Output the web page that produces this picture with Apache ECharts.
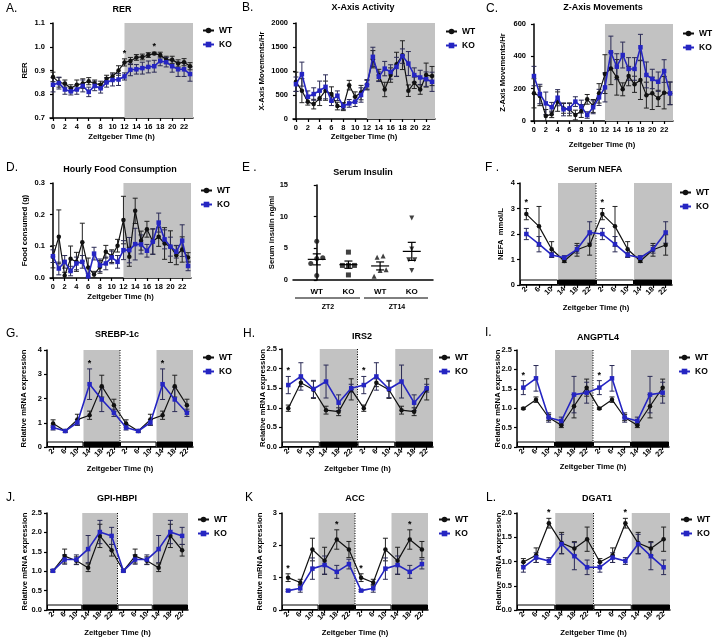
<!DOCTYPE html>
<html><head><meta charset="utf-8">
<script src="https://cdn.jsdelivr.net/npm/echarts@6/dist/echarts.min.js"></script>
<style>html,body{margin:0;padding:0;background:#fff}#c{width:713px;height:639px}</style>
</head><body><div id="c"></div>
<script>
const FONT = "'Liberation Sans', Arial, Helvetica, sans-serif";
const WT_COLOR = '#111111', KO_COLOR = '#2525c2', GRAY = '#c2c2c2', ERR_WT = '#222222', ERR_KO = '#2a2a55';

// ---------- hourly panels (ZT 0-23) ----------
const hoursZT = [0,1,2,3,4,5,6,7,8,9,10,11,12,13,14,15,16,17,18,19,20,21,22,23];
const hourTickLabels = [0,2,4,6,8,10,12,14,16,18,20,22];

// A. RER
const rerWT   = [0.873,0.850,0.845,0.825,0.840,0.845,0.855,0.845,0.840,0.865,0.875,0.900,0.934,0.940,0.955,0.957,0.965,0.972,0.965,0.945,0.945,0.930,0.935,0.918];
const rerWTse = [0.020,0.020,0.015,0.015,0.020,0.020,0.015,0.015,0.015,0.015,0.015,0.020,0.015,0.015,0.012,0.012,0.010,0.005,0.012,0.015,0.015,0.015,0.015,0.015];
const rerKO   = [0.840,0.847,0.820,0.812,0.820,0.835,0.810,0.835,0.825,0.850,0.860,0.862,0.875,0.903,0.905,0.910,0.915,0.918,0.940,0.935,0.918,0.905,0.905,0.885];
const rerKOse = [0.030,0.025,0.020,0.015,0.020,0.025,0.020,0.020,0.020,0.020,0.025,0.025,0.015,0.025,0.020,0.025,0.025,0.025,0.020,0.020,0.025,0.030,0.030,0.030];
const rerStars = [12,17];

// B. X-Axis Activity
const xActWT   = [775,590,360,310,430,590,520,270,255,705,465,550,720,1245,915,615,915,1140,1330,590,755,615,915,895];
const xActWTse = [200,250,70,100,150,200,150,80,80,100,100,150,100,180,120,150,150,250,300,120,120,100,250,200];
const xActKO   = [725,935,465,520,590,670,380,485,270,325,360,500,705,1295,880,1050,980,1085,1310,1155,915,865,830,775];
const xActKOse = [150,250,120,130,200,250,100,100,70,80,100,150,100,200,100,150,150,200,150,250,150,150,150,200];

// C. Z-Axis Movements
const zMovWT   = [171,155,31,41,120,78,72,37,62,134,93,171,290,325,270,196,278,227,253,160,171,140,175,171];
const zMovWTse = [90,60,40,20,60,30,40,30,40,30,40,60,120,100,110,40,60,50,120,80,100,50,100,70];
const zMovKO   = [278,167,109,85,144,72,78,120,89,37,85,146,208,425,336,408,322,322,456,285,260,243,309,171];
const zMovKOse = [60,60,70,30,50,40,30,30,40,20,40,50,90,100,80,80,70,70,80,80,60,60,70,70];

// D. Hourly Food Consumption
const foodWT   = [0.067,0.130,0.008,0.061,0.051,0.113,0.033,0.011,0.035,0.083,0.069,0.102,0.183,0.067,0.212,0.118,0.154,0.115,0.130,0.109,0.099,0.072,0.090,0.065];
const foodWTse = [0.035,0.085,0.010,0.040,0.030,0.060,0.030,0.010,0.020,0.020,0.020,0.020,0.075,0.030,0.040,0.030,0.025,0.040,0.030,0.050,0.050,0.030,0.040,0.015];
const foodKO   = [0.069,0.030,0.051,0.022,0.046,0.051,0.005,0.077,0.040,0.046,0.065,0.051,0.088,0.088,0.107,0.106,0.086,0.115,0.175,0.122,0.099,0.083,0.118,0.038];
const foodKOse = [0.020,0.020,0.020,0.015,0.020,0.020,0.010,0.020,0.020,0.020,0.020,0.020,0.030,0.040,0.050,0.030,0.020,0.040,0.030,0.030,0.030,0.020,0.050,0.015];

// E. Serum Insulin (individual animals)
const insulinGroupLabels = ['WT','KO','WT','KO'];
const insulinPhaseLabels = ['ZT2','ZT14'];
const insWTzt2  = [6.1, 3.5, 3.4, 2.6, 0.7];
const insKOzt2  = [4.4, 2.3, 2.3, 2.3, 0.8];
const insWTzt14 = [3.8, 3.6, 1.6, 1.5, 0.6];
const insKOzt14 = [9.8, 4.9, 3.2, 3.2, 1.5];

// ---------- ZT sampled panels (double plotted) ----------
const ztHours = [2,6,10,14,18,22];

const nefaWT = [2.78,2.30,1.40,0.94,1.38,1.57], nefaWTse = [0.22,0.78,0.30,0.06,0.25,0.40];
const nefaKO = [2.00,1.60,1.18,1.07,1.40,2.06], nefaKOse = [0.22,0.30,0.10,0.08,0.15,0.42];
const nefaStars = [2];

const srebpWT = [0.97,0.66,1.13,1.31,2.51,1.72], srebpWTse = [0.15,0.05,0.22,0.17,0.45,0.25];
const srebpKO = [0.80,0.66,1.01,2.59,1.96,1.41], srebpKOse = [0.10,0.05,0.12,0.63,0.50,0.15];
const srebpStars = [14];

const irs2WT = [0.99,1.64,1.46,0.94,0.90,1.47], irs2WTse = [0.08,0.10,0.22,0.10,0.10,0.27];
const irs2KO = [1.58,1.80,1.48,1.67,1.13,1.50], irs2KOse = [0.22,0.35,0.22,0.42,0.20,0.10];
const irs2Stars = [2];

const angWT = [0.99,1.22,0.76,0.56,1.05,1.53], angWTse = [0.02,0.07,0.08,0.06,0.30,0.22];
const angKO = [1.53,1.77,0.76,0.67,1.35,1.40], angKOse = [0.18,0.33,0.12,0.10,0.47,0.27];
const angStars = [2];

const gpiWT = [1.01,1.39,1.27,1.09,1.91,1.54], gpiWTse = [0.03,0.18,0.10,0.10,0.30,0.15];
const gpiKO = [1.01,1.30,1.30,1.57,2.01,1.91], gpiKOse = [0.03,0.12,0.12,0.35,0.30,0.22];
const gpiStars = [];

const accWT = [1.00,0.85,1.87,1.52,2.18,1.87], accWTse = [0.12,0.10,0.35,0.42,0.30,0.25];
const accKO = [0.60,0.67,1.28,1.39,1.18,1.42], accKOse = [0.03,0.12,0.33,0.28,0.20,0.15];
const accStars = [2,18];

const dgatWT = [0.99,1.13,1.79,1.38,1.27,1.46], dgatWTse = [0.07,0.15,0.10,0.22,0.14,0.25];
const dgatKO = [0.88,1.08,1.01,1.36,1.11,0.88], dgatKOse = [0.10,0.10,0.07,0.20,0.28,0.15];
const dgatStars = [10];

// light/dark phases (hours)
const darkHour = [[12,24]];
const darkZT = [[12,24],[36,48]];
const phasesZT = [[0,12,0],[12,24,1],[24,36,0],[36,48,1]];

// ---------- layout ----------
const LAYOUT = {
  A:{g:[50,23,143,95],  t:[122,10],  l:[6,9,'A.'],    yn:25,  xn:137, lg:[202,30]},
  B:{g:[293,23,142,96], t:[363,8],   l:[242,8,'B.'],  yn:262, xn:137, lg:[445,31]},
  C:{g:[531,24,142,97], t:[603,8],   l:[486,9,'C.'],  yn:503, xn:145, lg:[682,33]},
  D:{g:[50,183,141,95], t:[120,170], l:[6,168,'D.'],  yn:25,  xn:297, lg:[200,190]},
  E:{g:[293,185,140,95],t:[363,173], l:[242,168,'E .'],yn:272},
  F:{g:[520,183,152,102],t:[595,170],l:[485,168,'F .'],yn:501, xn:308, lg:[679,192]},
  G:{g:[47,350,146,97], t:[117,335], l:[6,334,'G.'],  yn:24,  xn:469, lg:[202,357]},
  H:{g:[282,349,151,98],t:[362,337], l:[243,334,'H.'],yn:263, xn:469, lg:[438,357]},
  I:{g:[517,350,152,97],t:[598,338], l:[485,333,'I.'],yn:498, xn:467, lg:[678,357]},
  J:{g:[47,513,141,97], t:[117,499], l:[6,498,'J.'],  yn:25,  xn:633, lg:[197,519]},
  K:{g:[282,513,146,97],t:[355,499], l:[245,498,'K'], yn:260, xn:633, lg:[438,519]},
  L:{g:[517,513,153,97],t:[597,499], l:[486,498,'L.'],yn:499, xn:633, lg:[680,519]}
};

const PANELS = [
  {key:'A', kind:'hour', title:'RER', yname:'RER', wt:rerWT, wtSe:rerWTse, ko:rerKO, koSe:rerKOse, stars:rerStars, y:[0.7,1.1,0.1,1]},
  {key:'B', kind:'hour', title:'X-Axis Activity', yname:'X-Axis Movements/Hr', wt:xActWT, wtSe:xActWTse, ko:xActKO, koSe:xActKOse, stars:[], y:[0,2000,500,0]},
  {key:'C', kind:'hour', title:'Z-Axis Movements', yname:'Z-Axis Movements/Hr', wt:zMovWT, wtSe:zMovWTse, ko:zMovKO, koSe:zMovKOse, stars:[], y:[0,600,200,0]},
  {key:'D', kind:'hour', title:'Hourly Food Consumption', yname:'Food consumed (g)', wt:foodWT, wtSe:foodWTse, ko:foodKO, koSe:foodKOse, stars:[], y:[0,0.3,0.1,1]},
  {key:'F', kind:'zt', title:'Serum NEFA', yname:'NEFA  mmol/L', wt:nefaWT, wtSe:nefaWTse, ko:nefaKO, koSe:nefaKOse, stars:nefaStars, y:[0,4,1,0]},
  {key:'G', kind:'zt', title:'SREBP-1c', yname:'Relative mRNA expression', wt:srebpWT, wtSe:srebpWTse, ko:srebpKO, koSe:srebpKOse, stars:srebpStars, y:[0,4,1,0]},
  {key:'H', kind:'zt', title:'IRS2', yname:'Relative mRNA expression', wt:irs2WT, wtSe:irs2WTse, ko:irs2KO, koSe:irs2KOse, stars:irs2Stars, y:[0,2.5,0.5,1]},
  {key:'I', kind:'zt', title:'ANGPTL4', yname:'Relative mRNA expression', wt:angWT, wtSe:angWTse, ko:angKO, koSe:angKOse, stars:angStars, y:[0,2.5,0.5,1]},
  {key:'J', kind:'zt', title:'GPI-HBPI', yname:'Relative mRNA expression', wt:gpiWT, wtSe:gpiWTse, ko:gpiKO, koSe:gpiKOse, stars:gpiStars, y:[0,2.5,0.5,1]},
  {key:'K', kind:'zt', title:'ACC', yname:'Relative mRNA expression', wt:accWT, wtSe:accWTse, ko:accKO, koSe:accKOse, stars:accStars, y:[0,3,1,0]},
  {key:'L', kind:'zt', title:'DGAT1', yname:'Relative mRNA expression', wt:dgatWT, wtSe:dgatWTse, ko:dgatKO, koSe:dgatKOse, stars:dgatStars, y:[0,2,0.5,1]}
];

// ---------- helpers ----------
const option = {animation:false, backgroundColor:'#ffffff', grid:[], xAxis:[], yAxis:[], series:[], legend:[], graphic:[]};
const txt = (extra) => Object.assign({fontFamily:FONT, fontWeight:'bold', color:'#000'}, extra);
const axisLineCfg = {show:true, lineStyle:{color:'#000', width:1.5}};
const axisTickCfg = (extra) => Object.assign({show:true, length:3, inside:false, lineStyle:{color:'#000', width:1.2}}, extra || {});

function bandRender(params, api) {
  const cs = params.coordSys;
  let x1 = api.coord([api.value(0), 0])[0], x2 = api.coord([api.value(1), 0])[0];
  x1 = Math.max(x1, cs.x); x2 = Math.min(x2, cs.x + cs.width);
  return {type:'rect', shape:{x:x1, y:cs.y, width:x2 - x1, height:cs.height}, style:{fill:GRAY}};
}
function dayBarRender(params, api) {
  const cs = params.coordSys, h = 5;
  const x1 = api.coord([api.value(0), 0])[0], x2 = api.coord([api.value(1), 0])[0];
  const dark = api.value(2) === 1;
  return {type:'rect', shape:{x:x1 + 0.5, y:cs.y + cs.height - h, width:x2 - x1 - 1, height:h - 0.5},
    style: dark ? {fill:'#000', stroke:'#000', lineWidth:1} : {fill:'#fff', stroke:'#000', lineWidth:1}};
}
function dividerRender(params, api) {
  const cs = params.coordSys;
  const x = api.coord([api.value(0), 0])[0];
  return {type:'line', shape:{x1:x, y1:cs.y, x2:x, y2:cs.y + cs.height}, style:{stroke:'#000', lineWidth:1, lineDash:[1,1.5]}};
}
function errRender(params, api) {
  const x = api.value(0), y = api.value(1), e = api.value(2);
  const t = api.coord([x, y + e]), b = api.coord([x, y - e]);
  const cw = 2.5, st = {stroke: api.visual('color'), lineWidth: 1};
  return {type:'group', children:[
    {type:'line', shape:{x1:t[0], y1:t[1], x2:b[0], y2:b[1]}, style:st},
    {type:'line', shape:{x1:t[0]-cw, y1:t[1], x2:t[0]+cw, y2:t[1]}, style:st},
    {type:'line', shape:{x1:b[0]-cw, y1:b[1], x2:b[0]+cw, y2:b[1]}, style:st}
  ]};
}
function starRender(params, api) {
  const p = api.coord([api.value(0), api.value(1)]);
  return {type:'text', x:p[0], y:p[1] - 1, style:{text:'*', fill:'#000', font:'bold 9px ' + FONT, align:'center', verticalAlign:'bottom'}};
}
function meanSemRender(params, api) {
  const k = api.value(0), m = api.value(1), s = api.value(2);
  const c = api.coord([k, m]), t = api.coord([k, m + s]), b = api.coord([k, m - s]);
  const st = {stroke:'#000', lineWidth:1.2};
  return {type:'group', children:[
    {type:'line', shape:{x1:c[0]-9, y1:c[1], x2:c[0]+9, y2:c[1]}, style:st},
    {type:'line', shape:{x1:t[0], y1:t[1], x2:b[0], y2:b[1]}, style:st},
    {type:'line', shape:{x1:t[0]-4, y1:t[1], x2:t[0]+4, y2:t[1]}, style:st},
    {type:'line', shape:{x1:b[0]-4, y1:b[1], x2:b[0]+4, y2:b[1]}, style:st}
  ]};
}
function swarmOffsets(vals, thr, gap) {
  const idx = vals.map((v, i) => i).sort((a, b) => vals[a] - vals[b]);
  const offs = new Array(vals.length).fill(0);
  let cluster = [idx[0]];
  const flush = () => { cluster.forEach((ii, k) => { offs[ii] = (k - (cluster.length - 1) / 2) * gap; }); };
  for (let k = 1; k < idx.length; k++) {
    if (vals[idx[k]] - vals[cluster[cluster.length - 1]] < thr) cluster.push(idx[k]);
    else { flush(); cluster = [idx[k]]; }
  }
  flush();
  return offs;
}
function addText(x, y, text, size, weight, rot) {
  option.graphic.push({type:'text', x:x, y:y, rotation: rot || 0, silent:true,
    style:{text:text, fill:'#000', font:(weight || 'bold') + ' ' + size + 'px ' + FONT, align:'center', verticalAlign:'middle'}});
}
function addFrameText(key, title, yname) {
  const lay = LAYOUT[key];
  option.graphic.push({type:'text', x:lay.l[0], y:lay.l[1], silent:true,
    style:{text:lay.l[2], fill:'#000', font:'normal 12px ' + FONT, align:'left', verticalAlign:'middle'}});
  addText(lay.t[0], lay.t[1], title, 9, 'bold');
  addText(lay.yn, lay.g[1] + lay.g[3] / 2, yname, 7.7, 'bold', Math.PI / 2);
  if (lay.xn) addText(lay.g[0] + lay.g[2] / 2, lay.xn, 'Zeitgeber Time (h)', 7.7, 'bold');
}
function yAxisCfg(i, y) {
  return {type:'value', gridIndex:i, min:y[0], max:y[1], interval:y[2], axisLine:axisLineCfg, axisTick:axisTickCfg(),
    splitLine:{show:false}, axisLabel:txt({fontSize:7.5, margin:5, formatter:(v) => v.toFixed(y[3])})};
}

// ---------- build time-course panels ----------
const ztTicks = ztHours.concat(ztHours.map(h => h + 24));
PANELS.forEach(p => {
  const i = option.grid.length;
  const lay = LAYOUT[p.key];
  option.grid.push({left:lay.g[0], top:lay.g[1], width:lay.g[2], height:lay.g[3]});
  const isZT = p.kind === 'zt';
  const xs = isZT ? ztTicks : hoursZT;
  const dup = a => isZT ? a.concat(a) : a;
  const wt = dup(p.wt), wtSe = dup(p.wtSe), ko = dup(p.ko), koSe = dup(p.koSe);
  const starX = isZT ? p.stars.flatMap(h => [h, h + 24]) : p.stars;

  if (isZT) {
    option.xAxis.push({type:'value', gridIndex:i, min:0, max:48, axisLine:axisLineCfg, splitLine:{show:false},
      axisTick:axisTickCfg({customValues:ztTicks}),
      axisLabel:txt({fontSize:7.5, margin:3, rotate:45, customValues:ztTicks, formatter:(v) => String(v % 24)})});
  } else {
    option.xAxis.push({type:'value', gridIndex:i, min:-0.5, max:23.5, axisLine:axisLineCfg, splitLine:{show:false},
      axisTick:axisTickCfg({customValues:hourTickLabels}),
      axisLabel:txt({fontSize:7.5, margin:5, customValues:hourTickLabels, formatter:(v) => String(v)})});
  }
  option.yAxis.push(yAxisCfg(i, p.y));

  const base = {xAxisIndex:i, yAxisIndex:i, silent:true};
  option.series.push(Object.assign({type:'custom', renderItem:bandRender, data: isZT ? darkZT : darkHour, z:1, clip:true}, base));
  if (isZT) {
    option.series.push(Object.assign({type:'custom', renderItem:dayBarRender, data:phasesZT, z:2}, base));
    option.series.push(Object.assign({type:'custom', renderItem:dividerRender, data:[[24]], z:2}, base));
  }
  option.series.push(Object.assign({type:'custom', name:'WT err', renderItem:errRender, itemStyle:{color:ERR_WT},
    data: xs.map((x, k) => [x, wt[k], wtSe[k]]), z:3, clip:true}, base));
  option.series.push(Object.assign({type:'custom', name:'KO err', renderItem:errRender, itemStyle:{color:ERR_KO},
    data: xs.map((x, k) => [x, ko[k], koSe[k]]), z:3, clip:true}, base));
  option.series.push({type:'line', name:'WT', xAxisIndex:i, yAxisIndex:i, data: xs.map((x, k) => [x, wt[k]]),
    symbol:'circle', symbolSize:4.5, showAllSymbol:true, lineStyle:{color:WT_COLOR, width:1.2}, itemStyle:{color:WT_COLOR}, z:4, clip:true});
  option.series.push({type:'line', name:'KO', xAxisIndex:i, yAxisIndex:i, data: xs.map((x, k) => [x, ko[k]]),
    symbol:'rect', symbolSize:4.5, showAllSymbol:true, lineStyle:{color:KO_COLOR, width:1.6}, itemStyle:{color:KO_COLOR}, z:5, clip:true});
  if (starX.length) {
    option.series.push(Object.assign({type:'custom', renderItem:starRender, z:6,
      data: starX.map(x => { const k = xs.indexOf(x); return [x, Math.max(wt[k] + wtSe[k], ko[k] + koSe[k])]; })}, base));
  }
  option.legend.push({left:lay.lg[0], top:lay.lg[1] - 4, padding:0, orient:'vertical', itemWidth:11, itemHeight:7, itemGap:5,
    selectedMode:false, data:['WT','KO'], textStyle:txt({fontSize:8.5, lineHeight:8})});
  addFrameText(p.key, p.title, p.yname);
});

// ---------- panel E: Serum Insulin ----------
(function () {
  const i = option.grid.length;
  const lay = LAYOUT.E;
  option.grid.push({left:lay.g[0], top:lay.g[1], width:lay.g[2], height:lay.g[3]});
  const cats = insulinGroupLabels.map((c, k) => k);
  option.xAxis.push({type:'value', gridIndex:i, min:-0.75, max:3.67, axisLine:axisLineCfg, splitLine:{show:false},
    axisTick:{show:false}, axisLabel:txt({fontSize:8, margin:8, customValues:cats, formatter:(v) => insulinGroupLabels[Math.round(v)]})});
  option.yAxis.push(yAxisCfg(i, [0, 15, 5, 0]));
  const sets = [insWTzt2, insKOzt2, insWTzt14, insKOzt14];
  const symbols = ['circle', 'rect', 'triangle', 'triangle'];
  const rots = [0, 0, 0, 180];
  sets.forEach((vals, k) => {
    const offs = swarmOffsets(vals, 1.0, 6);
    option.series.push({type:'scatter', name:'Insulin ' + insulinGroupLabels[k] + ' ' + insulinPhaseLabels[k >> 1],
      xAxisIndex:i, yAxisIndex:i, symbol:symbols[k], symbolSize:5, symbolRotate:rots[k], itemStyle:{color:'#111'}, z:4,
      data: vals.map((v, j) => ({value:[k, v], symbolOffset:[offs[j], 0]}))});
  });
  const stats = sets.map((vals, k) => {
    const n = vals.length, m = vals.reduce((a, b) => a + b, 0) / n;
    const sd = Math.sqrt(vals.reduce((a, b) => a + (b - m) * (b - m), 0) / (n - 1));
    return [k, m, sd / Math.sqrt(n)];
  });
  option.series.push({type:'custom', xAxisIndex:i, yAxisIndex:i, renderItem:meanSemRender, data:stats, z:5, silent:true});
  addFrameText('E', 'Serum Insulin', 'Serum insulin ng/ml');
  // phase grouping lines under the category labels
  option.graphic.push({type:'line', silent:true, shape:{x1:295, y1:298, x2:360, y2:298}, style:{stroke:'#000', lineWidth:1}});
  option.graphic.push({type:'line', silent:true, shape:{x1:364, y1:298, x2:428, y2:298}, style:{stroke:'#000', lineWidth:1}});
  addText(328, 307, insulinPhaseLabels[0], 7, 'bold');
  addText(397, 307, insulinPhaseLabels[1], 7, 'bold');
})();

const chart = echarts.init(document.getElementById('c'), null, {renderer:'canvas'});
chart.setOption(option);
</script></body></html>
